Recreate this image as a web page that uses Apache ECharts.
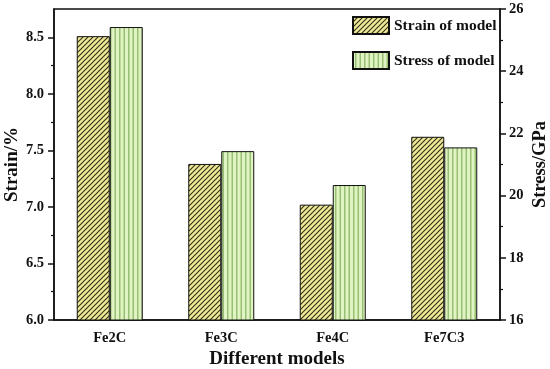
<!DOCTYPE html>
<html><head><meta charset="utf-8">
<script src="https://cdn.jsdelivr.net/npm/echarts@6/dist/echarts.min.js"></script>
<style>html,body{margin:0;padding:0;background:#fff}#c{width:550px;height:369px}</style>
</head><body><div id="c"></div>
<script>
const categories = ['Fe2C', 'Fe3C', 'Fe4C', 'Fe7C3'];
const strainValues = [8.51, 7.38, 7.02, 7.62];
const stressValues = [25.42, 21.43, 20.34, 21.55];
const strainTicks = [6.0, 6.5, 7.0, 7.5, 8.0, 8.5];
const strainMinorTicks = [6.25, 6.75, 7.25, 7.75, 8.25];
const stressTicks = [16, 18, 20, 22, 24, 26];
const seriesNames = ['Strain of model', 'Stress of model'];

function hatch() {
  const c = document.createElement('canvas'); c.width = 5; c.height = 5;
  const g = c.getContext('2d');
  g.fillStyle = '#f0ea98'; g.fillRect(0, 0, 5, 5);
  g.strokeStyle = '#34341a'; g.lineWidth = 1.2;
  g.beginPath();
  g.moveTo(-1, 6); g.lineTo(6, -1);
  g.moveTo(-1, 1); g.lineTo(1, -1);
  g.moveTo(4, 6); g.lineTo(6, 4);
  g.stroke();
  return c;
}
function stripes() {
  const c = document.createElement('canvas'); c.width = 9; c.height = 4;
  const g = c.getContext('2d');
  g.fillStyle = '#e0f3c2'; g.fillRect(0, 0, 9, 4);
  g.fillStyle = '#98c074';
  g.fillRect(2, 0, 1.5, 4); g.fillRect(6.5, 0, 1.5, 4);
  return c;
}
const font = "'Liberation Serif','Times New Roman',serif";
const chart = echarts.init(document.getElementById('c'), null, {renderer: 'canvas'});
chart.setOption({
  animation: false,
  backgroundColor: '#fff',
  grid: {left: 54, right: 50, top: 9, bottom: 49, containLabel: false, outerBoundsMode: 'none', show: true, borderColor: '#111', borderWidth: 1.5, backgroundColor: 'transparent'},
  legend: {
    orient: 'vertical', left: 347, top: 11, itemWidth: 36, itemHeight: 17, itemGap: 16, icon: 'rect',
    textStyle: {fontFamily: font, fontWeight: 'bold', fontSize: 15.5, color: '#111'},
    data: seriesNames
  },
  xAxis: [{
    type: 'category', data: categories, position: 'bottom',
    axisLine: {lineStyle: {color: '#111', width: 1.5}},
    axisTick: {alignWithLabel: true, length: 7, lineStyle: {color: '#111', width: 1.5}},
    axisLabel: {fontFamily: font, fontWeight: 'bold', fontSize: 14.5, color: '#111', margin: 11},
    name: 'Different models', nameLocation: 'middle', nameGap: 30, nameMoveOverlap: false,
    nameTextStyle: {fontFamily: font, fontWeight: 'bold', fontSize: 19, color: '#111'}
  }, {
    type: 'category', data: categories, position: 'bottom',
    axisLine: {show: false},
    axisTick: {length: 3, lineStyle: {color: '#111', width: 1.2}},
    axisLabel: {show: false}
  }],
  yAxis: [{
    type: 'value', min: 6, max: 8.75, position: 'left',
    splitLine: {show: false},
    axisLine: {show: true, lineStyle: {color: '#111', width: 1.5}},
    axisTick: {show: true, length: 6, customValues: strainTicks, lineStyle: {color: '#111', width: 1.5}},
    axisLabel: {customValues: strainTicks, formatter: v => v.toFixed(1), fontFamily: font, fontWeight: 'bold', fontSize: 14.5, color: '#111', margin: 10},
    name: 'Strain/%', nameLocation: 'middle', nameGap: 32, nameRotate: 90, nameMoveOverlap: false,
    nameTextStyle: {fontFamily: font, fontWeight: 'bold', fontSize: 19, color: '#111'}
  }, {
    type: 'value', min: 16, max: 26, interval: 2, position: 'right',
    splitLine: {show: false},
    axisLine: {show: true, lineStyle: {color: '#111', width: 1.5}},
    axisTick: {show: true, length: 6, lineStyle: {color: '#111', width: 1.5}},
    minorTick: {show: true, splitNumber: 2, length: 3, lineStyle: {color: '#111', width: 1.2}},
    axisLabel: {customValues: stressTicks, fontFamily: font, fontWeight: 'bold', fontSize: 14.5, color: '#111', margin: 9},
    name: 'Stress/GPa', nameLocation: 'middle', nameGap: 31, nameRotate: 90, nameMoveOverlap: false,
    nameTextStyle: {fontFamily: font, fontWeight: 'bold', fontSize: 18.5, color: '#111'}
  }, {
    type: 'value', min: 6, max: 8.75, position: 'left',
    splitLine: {show: false}, axisLine: {show: false},
    axisTick: {show: true, length: 3, customValues: strainMinorTicks, lineStyle: {color: '#111', width: 1.2}},
    axisLabel: {show: false}
  }],
  series: [{
    name: seriesNames[0], type: 'bar', xAxisIndex: 0, yAxisIndex: 0, data: strainValues,
    barWidth: 33, barGap: '0%',
    itemStyle: {color: {image: hatch(), repeat: 'repeat'}, borderColor: '#111', borderWidth: 1}
  }, {
    name: seriesNames[1], type: 'bar', xAxisIndex: 0, yAxisIndex: 1, data: stressValues,
    barWidth: 33, barGap: '0%',
    itemStyle: {color: {image: stripes(), repeat: 'repeat'}, borderColor: '#111', borderWidth: 1}
  }]
});
</script></body></html>
